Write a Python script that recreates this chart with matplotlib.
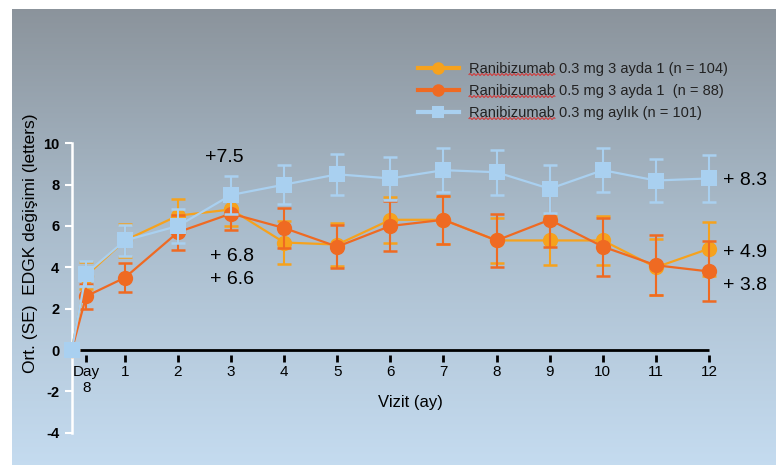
import numpy as np
import matplotlib
matplotlib.use("Agg")
import matplotlib.pyplot as plt
from matplotlib.lines import Line2D
from matplotlib.text import Text

plt.rcParams['font.family'] = ['Liberation Sans', 'DejaVu Sans']
plt.rcParams['axes.unicode_minus'] = False

# visit months (day 8 sits at ~0.27 month)
months = [0, 0.27, 1, 2, 3, 4, 5, 6, 7, 8, 9, 10, 11, 12]
tick_labels = ['Day\n8', '1', '2', '3', '4', '5', '6', '7', '8', '9', '10', '11', '12']

# mean change and standard error per visit
q3_03 = [0, 3.6, 5.3, 6.5, 6.8, 5.2, 5.1, 6.3, 6.3, 5.3, 5.3, 5.3, 4.0, 4.9]
q3_03_se = [0, 0.65, 0.8, 0.8, 0.8, 1.05, 1.05, 1.1, 1.15, 1.1, 1.2, 1.2, 1.35, 1.3]
q3_05 = [0, 2.6, 3.5, 5.7, 6.6, 5.9, 5.0, 6.0, 6.3, 5.3, 6.3, 5.0, 4.1, 3.8]
q3_05_se = [0, 0.6, 0.7, 0.85, 0.8, 0.95, 1.05, 1.2, 1.15, 1.3, 1.3, 1.4, 1.45, 1.45]
monthly = [0, 3.7, 5.3, 6.0, 7.5, 8.0, 8.5, 8.3, 8.7, 8.6, 7.8, 8.7, 8.2, 8.3]
monthly_se = [0, 0.6, 0.75, 0.8, 0.9, 0.95, 1.0, 1.05, 1.05, 1.1, 1.15, 1.05, 1.05, 1.15]

labels = ['Ranibizumab 0.3 mg 3 ayda 1 (n = 104)',
          'Ranibizumab 0.5 mg 3 ayda 1  (n = 88)',
          'Ranibizumab 0.3 mg aylık (n = 101)']

c_03 = '#f6a21d'
c_05 = '#ef6a22'
c_mo = '#a9d0f0'

W, H = 776, 465
fig = plt.figure(figsize=(W / 100, H / 100), dpi=100)
fig.patch.set_facecolor('white')

# gradient panel behind the chart
bg = fig.add_axes([12 / W, 0, (W - 12) / W, (H - 9) / H])
bg.set_axis_off()
top = np.array([0.545, 0.578, 0.610])
mid = np.array([0.660, 0.730, 0.790])
bot = np.array([0.770, 0.860, 0.940])
t = np.linspace(0, 1, 256)[:, None]
grad = np.where(t < 0.45, top + (mid - top) * (t / 0.45), mid + (bot - mid) * ((t - 0.45) / 0.55))
bg.imshow(grad[:, None, :].repeat(2, axis=1), aspect='auto', extent=[0, 1, 0, 1])

# main axes: x=0 at px 71.8, 53.1 px per month; y=0 at px 350, 20.67 px per unit
px_x0, sx = 71.8, 53.1
px_y0, sy = 350.0, 20.67
left_px, right_px, top_px, bot_px = 40, 776, 100, 445
ax = fig.add_axes([left_px / W, (H - bot_px) / H, (right_px - left_px) / W, (bot_px - top_px) / H])
ax.set_facecolor('none')
ax.set_xlim((left_px - px_x0) / sx, (right_px - px_x0) / sx)
ax.set_ylim((px_y0 - bot_px) / sy, (px_y0 - top_px) / sy)

for s in ['top', 'right']:
    ax.spines[s].set_visible(False)
ax.spines['left'].set_position(('data', 0))
ax.spines['left'].set_bounds(-4, 10)
ax.spines['left'].set_color('white')
ax.spines['left'].set_linewidth(1.8)
ax.set_yticks(range(-4, 11, 2))
ax.tick_params(axis='y', colors='white', length=5, width=1.5, pad=4,
               labelcolor='black', labelsize=10.5)
for lab in ax.get_yticklabels():
    lab.set_fontweight('bold')

# x ticks sit on an invisible spine just below the zero line
ax.spines['bottom'].set_position(('data', -0.25))
ax.spines['bottom'].set_visible(False)
ax.set_xticks(months[1:])
ax.set_xticklabels(tick_labels)
ax.tick_params(axis='x', direction='out', length=5, width=2, color='black',
               labelsize=11, pad=2)
ax.hlines(0, 0.15, 12, color='black', lw=2, zorder=2)

series = [(q3_03, q3_03_se, c_03, 'o', 3),
          (q3_05, q3_05_se, c_05, 'o', 4),
          (monthly, monthly_se, c_mo, 's', 5)]
handles = []
for vals, se, col, mk, z in series:
    ax.errorbar(months[1:], vals[1:], yerr=se[1:], fmt='none', ecolor=col,
                elinewidth=1.5, capsize=5, capthick=1.8, zorder=z)
    ax.plot(months, vals, color=col, lw=1.6, marker=mk,
            markersize=11 if mk == 'o' else 11, markeredgewidth=0, zorder=z + 0.5, clip_on=False)
    handles.append(Line2D([], [], color=col, lw=3, marker=mk, markersize=9, markeredgewidth=0))

# value labels
ax.text(2.88, 9.29, f'+{monthly[4]}', fontsize=14, ha='center', va='center')
ax.text(3.02, 4.5, f'+ {q3_03[4]}', fontsize=14, ha='center', va='center')
ax.text(3.02, 3.39, f'+ {q3_05[4]}', fontsize=14, ha='center', va='center')
ax.text(12.26, 8.19, f'+ {monthly[13]}', fontsize=14, ha='left', va='center')
ax.text(12.26, 4.71, f'+ {q3_03[13]}', fontsize=14, ha='left', va='center')
ax.text(12.26, 3.11, f'+ {q3_05[13]}', fontsize=14, ha='left', va='center')

fig.text(410 / W, 1 - 402 / H, 'Vizit (ay)', fontsize=12, ha='center', va='center')
fig.text(31 / W, 1 - 243 / H, 'Ort. (SE)  EDGK değişimi (letters)', fontsize=12.5,
         rotation=90, ha='center', va='center')

leg = fig.legend(handles, labels, loc='upper left', bbox_to_anchor=(418 / W, 1 - 62 / H),
                 frameon=False, fontsize=10.5, handlelength=2.8, handletextpad=0.7,
                 labelspacing=0.55, borderpad=0, borderaxespad=0)
for txt in leg.get_texts():
    txt.set_color('#222222')

# red spell-check squiggle under "Ranibizumab"
fig.canvas.draw()
renderer = fig.canvas.get_renderer()
for txt in leg.get_texts():
    bb = txt.get_window_extent(renderer)
    probe = Text(0, 0, 'Ranibizumab', fontproperties=txt.get_fontproperties())
    probe.set_figure(fig)
    w = probe.get_window_extent(renderer).width
    xs = np.linspace(bb.x0, bb.x0 + w, 200)
    ys = bb.y0 + 1.5 + 0.9 * np.sin((xs - bb.x0) * 2 * np.pi / 4.0)
    fig.add_artist(Line2D(xs / W, ys / H, color='#d23a3a', lw=0.8, transform=fig.transFigure))

fig.savefig('out.png', dpi=100)
